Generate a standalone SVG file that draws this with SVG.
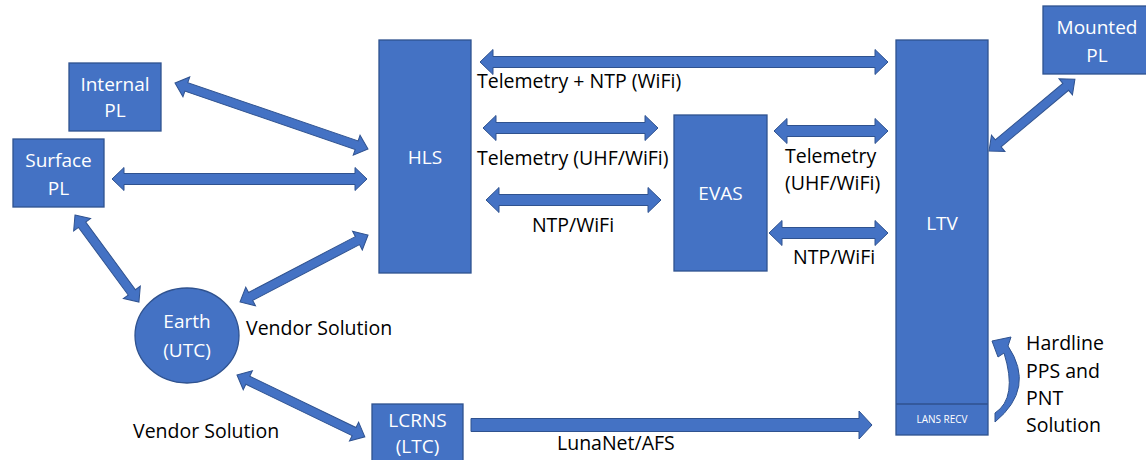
<svg xmlns="http://www.w3.org/2000/svg" width="1146" height="460" viewBox="0 0 1146 460">
<style>
.box{fill:#4472C4;stroke:#2F528F;stroke-width:1.3}
.arr{fill:#4472C4;stroke:#2F528F;stroke-width:1}
.wt{fill:#FFFFFF;font-family:"Open Sans","Noto Sans",sans-serif;font-size:19px;text-anchor:middle}
.bt{fill:#000000;font-family:"Open Sans","Noto Sans",sans-serif;font-size:19.5px}
.sm{fill:#FFFFFF;font-family:"Open Sans","Noto Sans",sans-serif;font-size:10px;text-anchor:middle}
</style>
<rect width="1146" height="460" fill="#FFFFFF"/>
<g id="connectors">
  <path class="arr" transform="translate(112,179)" d="M0,0 L12,-11.5 L12,-5.5 L243,-5.5 L243,-11.5 L255,0 L243,11.5 L243,5.5 L12,5.5 L12,11.5 Z"/>
  <path class="arr" transform="translate(480,62)" d="M0,0 L13,-12.5 L13,-5.5 L395,-5.5 L395,-12.5 L408,0 L395,12.5 L395,5.5 L13,5.5 L13,12.5 Z"/>
  <path class="arr" transform="translate(483,128)" d="M0,0 L13,-12.5 L13,-5.5 L162,-5.5 L162,-12.5 L175,0 L162,12.5 L162,5.5 L13,5.5 L13,12.5 Z"/>
  <path class="arr" transform="translate(486,200)" d="M0,0 L13,-12.5 L13,-5.5 L162,-5.5 L162,-12.5 L175,0 L162,12.5 L162,5.5 L13,5.5 L13,12.5 Z"/>
  <path class="arr" transform="translate(774,131)" d="M0,0 L13,-12.5 L13,-5.5 L101,-5.5 L101,-12.5 L114,0 L101,12.5 L101,5.5 L13,5.5 L13,12.5 Z"/>
  <path class="arr" transform="translate(769,233)" d="M0,0 L13,-12.5 L13,-5.5 L106,-5.5 L106,-12.5 L119,0 L106,12.5 L106,5.5 L13,5.5 L13,12.5 Z"/>
  <path class="arr" transform="translate(471,425)" d="M0,-6.5 L388,-6.5 L388,-14 L401,0 L388,14 L388,6.5 L0,6.5 Z"/>
  <path class="arr" transform="translate(175,83) rotate(18.9)" d="M0,0 L12,-10.5 L12,-4.5 L192,-4.5 L192,-10.5 L204,0 L192,10.5 L192,4.5 L12,4.5 L12,10.5 Z"/>
  <path class="arr" transform="translate(75,215) rotate(53.7)" d="M0,0 L12,-10.5 L12,-4.5 L96,-4.5 L96,-10.5 L108,0 L96,10.5 L96,4.5 L12,4.5 L12,10.5 Z"/>
  <path class="arr" transform="translate(240,302) rotate(-27.6)" d="M0,0 L12,-10.5 L12,-4.5 L132.5,-4.5 L132.5,-10.5 L144.5,0 L132.5,10.5 L132.5,4.5 L12,4.5 L12,10.5 Z"/>
  <path class="arr" transform="translate(237,375) rotate(25.8)" d="M0,0 L12,-10.5 L12,-4.5 L130,-4.5 L130,-10.5 L142,0 L130,10.5 L130,4.5 L12,4.5 L12,10.5 Z"/>
  <path class="arr" transform="translate(989,151) rotate(-39.9)" d="M0,0 L12,-10.5 L12,-4.5 L100,-4.5 L100,-10.5 L112,0 L100,10.5 L100,4.5 L12,4.5 L12,10.5 Z"/>
  <path class="arr" d="M995,413 Q1018,398 1004,353 L998,357 L992,341 L1011,337 L1008,346 Q1036,388 995,422 Z"/>
</g>
<g id="internal-pl">
  <rect class="box" x="69" y="63" width="92" height="68"/>
  <text class="wt" x="115" y="91">Internal</text>
  <text class="wt" x="115" y="117">PL</text>
</g>
<g id="surface-pl">
  <rect class="box" x="13" y="139" width="91" height="68"/>
  <text class="wt" x="58.5" y="167">Surface</text>
  <text class="wt" x="58.5" y="195">PL</text>
</g>
<g id="hls">
  <rect class="box" x="379" y="40" width="92" height="233"/>
  <text class="wt" x="425" y="164">HLS</text>
</g>
<g id="evas">
  <rect class="box" x="674" y="115" width="93" height="156"/>
  <text class="wt" x="720.5" y="200">EVAS</text>
</g>
<g id="ltv">
  <rect class="box" x="896" y="40" width="92" height="395"/>
  <line x1="896" y1="404" x2="988" y2="404" stroke="#2F528F" stroke-width="1.3"/>
  <text class="wt" x="942" y="230">LTV</text>
  <text class="sm" x="942" y="423">LANS RECV</text>
</g>
<g id="mounted-pl">
  <rect class="box" x="1043" y="6" width="104" height="68"/>
  <text class="wt" x="1097" y="34">Mounted</text>
  <text class="wt" x="1097" y="62">PL</text>
</g>
<g id="earth">
  <ellipse class="box" cx="187" cy="335.5" rx="52" ry="47.5"/>
  <text class="wt" x="187" y="328">Earth</text>
  <text class="wt" x="187" y="357">(UTC)</text>
</g>
<g id="lcrns">
  <rect class="box" x="372" y="404" width="91" height="62"/>
  <text class="wt" x="417.5" y="427">LCRNS</text>
  <text class="wt" x="417.5" y="453">(LTC)</text>
</g>
<g id="labels">
  <text class="bt" x="477" y="88">Telemetry + NTP (WiFi)</text>
  <text class="bt" x="477" y="165">Telemetry (UHF/WiFi)</text>
  <text class="bt" x="573" y="232" text-anchor="middle">NTP/WiFi</text>
  <text class="bt" x="785" y="163">Telemetry</text>
  <text class="bt" x="785" y="190">(UHF/WiFi)</text>
  <text class="bt" x="793" y="264">NTP/WiFi</text>
  <text class="bt" x="246" y="335">Vendor Solution</text>
  <text class="bt" x="133" y="438">Vendor Solution</text>
  <text class="bt" x="557" y="450">LunaNet/AFS</text>
  <text class="bt" x="1026" y="350">Hardline</text>
  <text class="bt" x="1026" y="378">PPS and</text>
  <text class="bt" x="1026" y="405">PNT</text>
  <text class="bt" x="1026" y="432">Solution</text>
</g>
</svg>
